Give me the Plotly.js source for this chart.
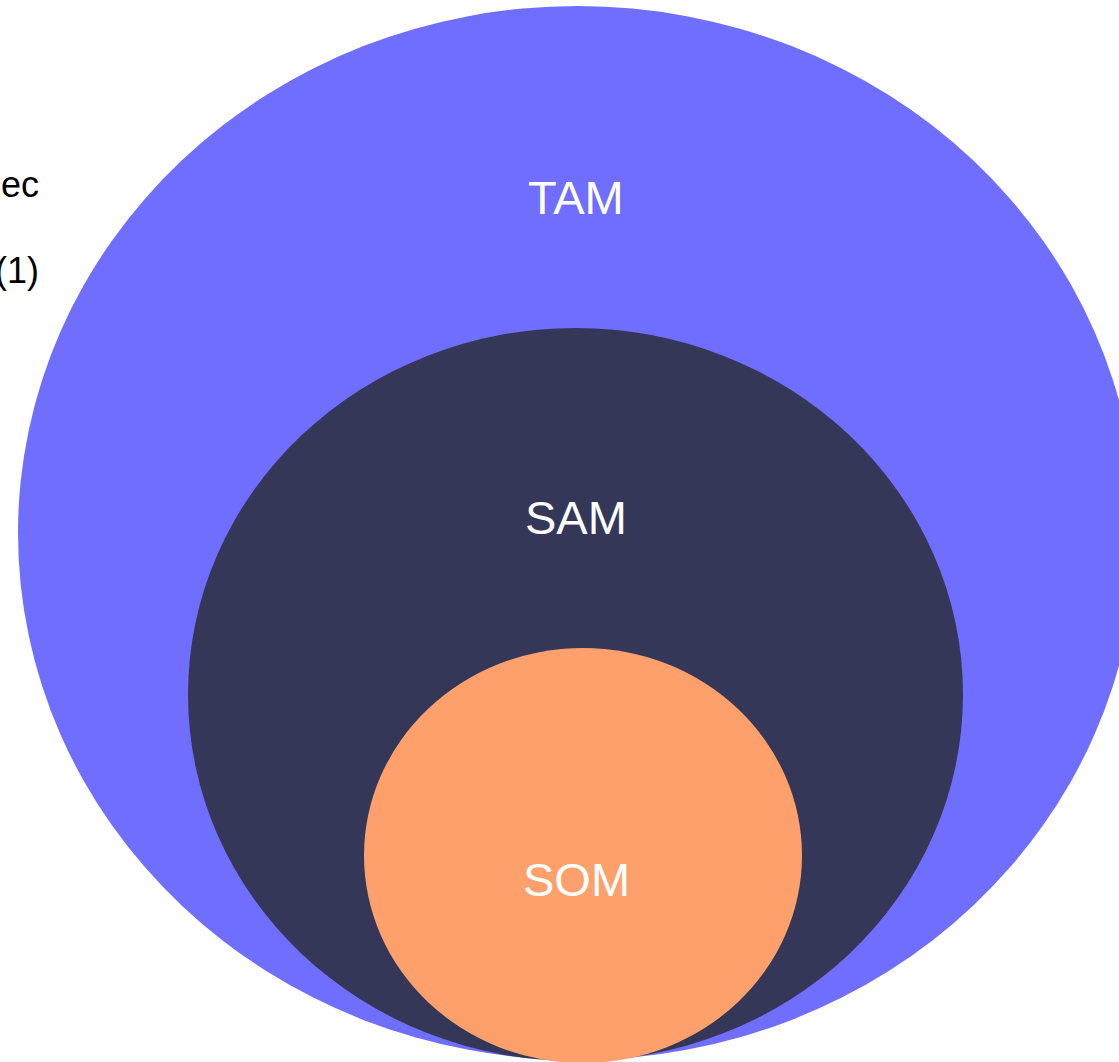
<!DOCTYPE html>
<html>
<head>
<meta charset="utf-8">
<script src="https://cdn.plot.ly/plotly-3.0.1.min.js"></script>
<style>html,body{margin:0;padding:0;background:#fff;}#chart{width:1119px;height:1062px;}</style>
</head>
<body>
<div id="chart"></div>
<script>
// Market segments (nested ellipses), bounds in chart units
const markets = ['TAM', 'SAM', 'SOM'];
const leftEdge = [18, 188, 364];
const rightEdge = [1137, 963, 802];
const topEdge = [6, 328, 648];
const bottomEdge = [1060, 1061, 1063];
const labelY = [197, 517, 879];
const labelX = [576, 576, 576];
// Fragments of side text visible at the left border
const sideText = ['ec', '(1)'];
const sideY = [184, 270];

const colors = ['#6F6EFE', '#343758', '#FDA06B'];
const fontFam = 'Arial, "Liberation Sans", Helvetica, sans-serif';

const shapes = markets.map((m, i) => ({
  type: 'circle', xref: 'x', yref: 'y',
  x0: leftEdge[i], x1: rightEdge[i], y0: topEdge[i], y1: bottomEdge[i],
  fillcolor: colors[i], line: {width: 0}, layer: 'below'
}));

const annotations = markets.map((m, i) => ({
  x: labelX[i], y: labelY[i], xref: 'x', yref: 'y', text: m, showarrow: false,
  xanchor: 'center', yanchor: 'middle',
  font: {family: fontFam, size: 47, color: '#ffffff'}
})).concat(sideText.map((t, i) => ({
  x: 41, y: sideY[i], xref: 'x', yref: 'y', text: t, showarrow: false,
  xanchor: 'right', yanchor: 'middle',
  font: {family: fontFam, size: 36, color: '#000000'}
})));

const trace = {x: leftEdge.concat(rightEdge), y: topEdge.concat(bottomEdge), mode: 'markers',
  marker: {opacity: 0}, hoverinfo: 'skip', showlegend: false, type: 'scatter'};

Plotly.newPlot('chart', [trace], {
  width: 1119, height: 1062,
  margin: {l: 0, r: 0, t: 0, b: 0},
  paper_bgcolor: '#ffffff', plot_bgcolor: '#ffffff',
  xaxis: {range: [0, 1119], visible: false, fixedrange: true},
  yaxis: {range: [1062, 0], visible: false, fixedrange: true},
  shapes: shapes, annotations: annotations, showlegend: false
}, {displayModeBar: false, staticPlot: true});
</script>
</body>
</html>
